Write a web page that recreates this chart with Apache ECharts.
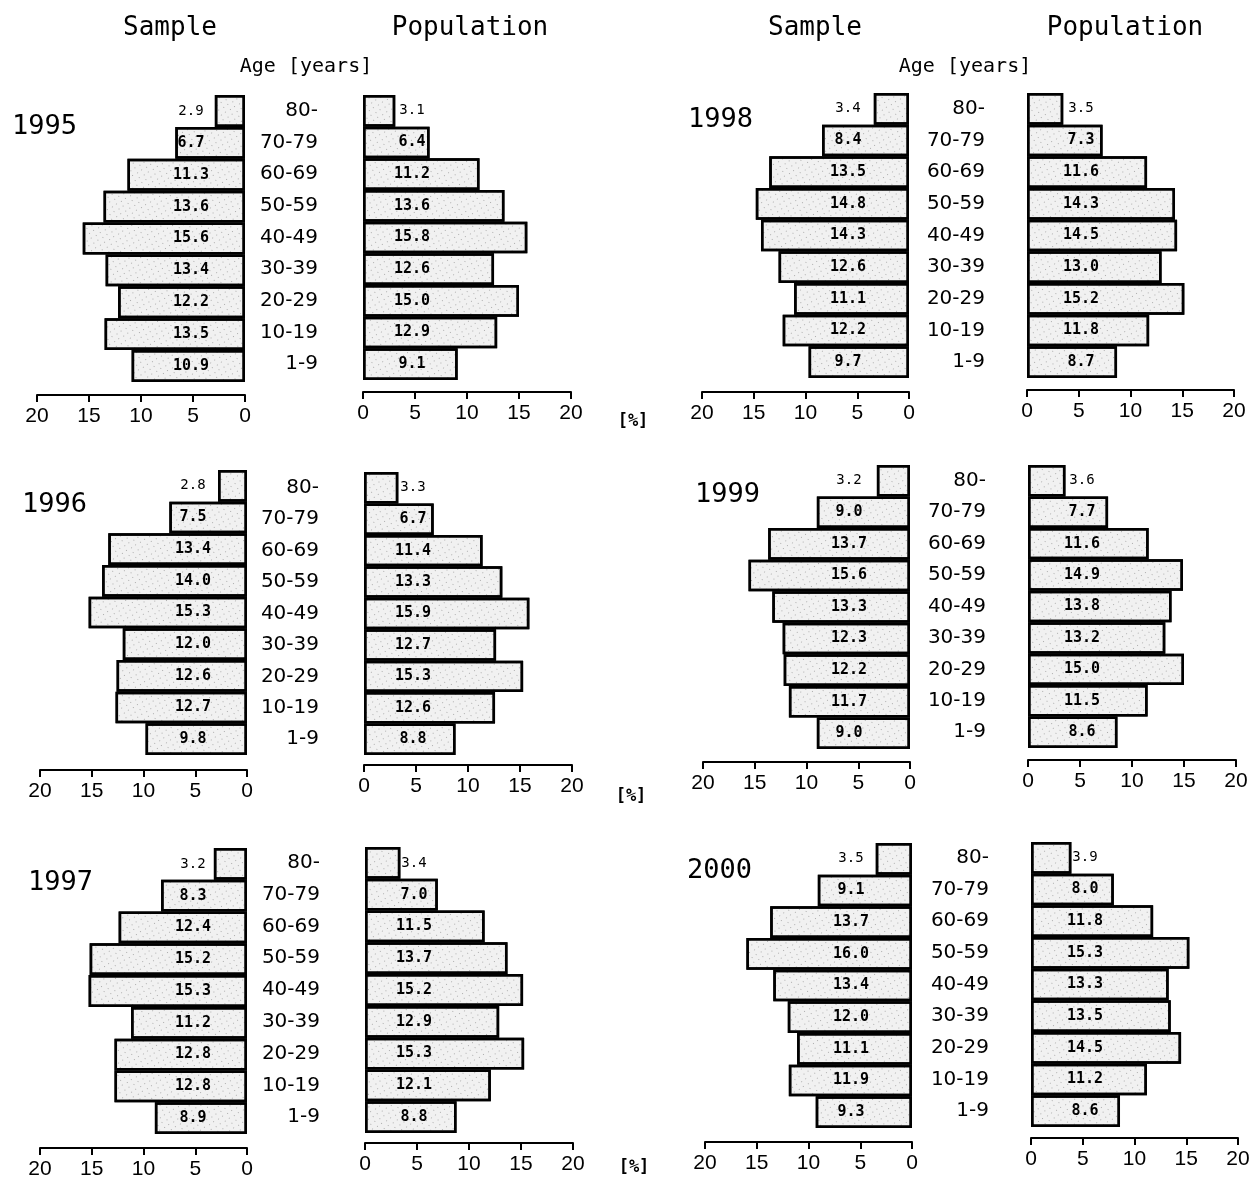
<!DOCTYPE html>
<html><head><meta charset="utf-8">
<script src="https://cdn.jsdelivr.net/npm/echarts@6/dist/echarts.min.js"></script>
<style>html,body{margin:0;padding:0;background:#fff}#c{width:1254px;height:1188px}</style>
</head><body><div id="c"></div>
<script>
const ageGroups = ['80-','70-79','60-69','50-59','40-49','30-39','20-29','10-19','1-9'];
const years = ['1995','1996','1997','1998','1999','2000'];
const axisTicks = [0,5,10,15,20];
const sample1995 = [2.9, 6.7, 11.3, 13.6, 15.6, 13.4, 12.2, 13.5, 10.9];
const pop1995    = [3.1, 6.4, 11.2, 13.6, 15.8, 12.6, 15.0, 12.9, 9.1];
const sample1996 = [2.8, 7.5, 13.4, 14.0, 15.3, 12.0, 12.6, 12.7, 9.8];
const pop1996    = [3.3, 6.7, 11.4, 13.3, 15.9, 12.7, 15.3, 12.6, 8.8];
const sample1997 = [3.2, 8.3, 12.4, 15.2, 15.3, 11.2, 12.8, 12.8, 8.9];
const pop1997    = [3.4, 7.0, 11.5, 13.7, 15.2, 12.9, 15.3, 12.1, 8.8];
const sample1998 = [3.4, 8.4, 13.5, 14.8, 14.3, 12.6, 11.1, 12.2, 9.7];
const pop1998    = [3.5, 7.3, 11.6, 14.3, 14.5, 13.0, 15.2, 11.8, 8.7];
const sample1999 = [3.2, 9.0, 13.7, 15.6, 13.3, 12.3, 12.2, 11.7, 9.0];
const pop1999    = [3.6, 7.7, 11.6, 14.9, 13.8, 13.2, 15.0, 11.5, 8.6];
const sample2000 = [3.5, 9.1, 13.7, 16.0, 13.4, 12.0, 11.1, 11.9, 9.3];
const pop2000    = [3.9, 8.0, 11.8, 15.3, 13.3, 13.5, 14.5, 11.2, 8.6];

const sampleData = [sample1995, sample1996, sample1997, sample1998, sample1999, sample2000];
const popData = [pop1995, pop1996, pop1997, pop1998, pop1999, pop2000];

// layout (pixels) for each panel
const layout = [
  {s:[37,245,95,382,395],  p:[363,571,95,380,392],   yr:[12,129],  col:0},
  {s:[40,247,470,755,770], p:[364,572,472,755,765],  yr:[22,507],  col:0},
  {s:[40,247,848,1134,1148], p:[365,573,847,1133,1143], yr:[28,885], col:0},
  {s:[702,909,93,378,392], p:[1027,1234,93,378,390], yr:[688,122], col:1},
  {s:[703,910,465,749,762], p:[1028,1236,465,748,760], yr:[695,497], col:1},
  {s:[705,912,843,1128,1142], p:[1031,1238,842,1127,1138], yr:[687,873], col:1}
];

const grids = [], xAxes = [], yAxes = [], series = [], graphics = [];
const tickFont = {fontFamily:'Liberation Sans', fontSize:21, color:'#000'};
const barStyle = {
  color:'#f1f1f1', borderColor:'#000', borderWidth:2.5,
  decal:{symbol:'rect', symbolSize:1, dashArrayX:[[1,6],[0,3,1,3]], dashArrayY:[1,3], color:'rgba(0,0,0,0.28)', rotation:0.3}
};
function mkData(arr){
  return arr.map((v,i)=> i===0 ? {value:v, label:{fontWeight:'normal', fontSize:14}} : v);
}
layout.forEach((L, k) => {
  ['s','p'].forEach((side) => {
    const g = L[side];
    const gi = grids.length;
    const left = Math.min(g[0], g[1]);
    const width = Math.abs(g[1]-g[0]);
    grids.push({left:left, top:g[2], width:width, height:g[3]-g[2], containLabel:false});
    xAxes.push({
      gridIndex:gi, type:'value', min:0, max:20, interval:5, inverse: side==='s',
      position:'bottom', offset:g[4]-g[3],
      splitLine:{show:false},
      axisLine:{show:true, lineStyle:{color:'#000', width:2}},
      axisTick:{show:true, length:7, lineStyle:{color:'#000', width:2}},
      axisLabel:Object.assign({margin:11, formatter:(v)=> axisTicks.indexOf(v)>=0 ? String(v) : ''}, tickFont)
    });
    yAxes.push({
      gridIndex:gi, type:'category', data:ageGroups, inverse:true,
      axisLine:{show:false}, axisTick:{show:false},
      axisLabel: side==='p' ? {show:true, fontFamily:'DejaVu Sans', fontSize:20, color:'#000', align:'right', margin: L.col===0 ? 45 : 42} : {show:false}
    });
    const dist = side==='s' ? (L.col===0 ? 54 : 61) : (L.col===0 ? 49 : 54);
    series.push({
      type:'bar', xAxisIndex:gi, yAxisIndex:gi, barCategoryGap:'0%',
      data: mkData(side==='s' ? sampleData[k] : popData[k]),
      itemStyle: barStyle,
      label:{show:true, position: side==='s' ? 'insideRight' : 'insideLeft', distance:dist, align:'center',
        fontFamily:'DejaVu Sans Mono', fontWeight:'bold', fontSize:15, color:'#000',
        formatter:(p)=> p.value.toFixed(1)},
      silent:true, animation:false
    });
  });
  graphics.push({type:'text', left:L.yr[0], top:L.yr[1]-16, style:{text:years[k], font:'27px "DejaVu Sans Mono"', fill:'#000'}});
});
// headers
[[170,'Sample'],[470,'Population'],[815,'Sample'],[1125,'Population']].forEach(h=>{
  graphics.push({type:'text', x:h[0], y:28, style:{text:h[1], font:'26px "DejaVu Sans Mono"', fill:'#000', align:'center', verticalAlign:'middle'}});
});
[[306,'Age [years]'],[965,'Age [years]']].forEach(h=>{
  graphics.push({type:'text', x:h[0], y:67, style:{text:h[1], font:'20px "DejaVu Sans Mono"', fill:'#000', align:'center', verticalAlign:'middle'}});
});
[[633,422],[631,797],[634,1168]].forEach(h=>{
  graphics.push({type:'text', x:h[0], y:h[1], style:{text:'[%]', font:'bold 17px "DejaVu Sans Mono"', fill:'#000', align:'center', verticalAlign:'middle'}});
});

const chart = echarts.init(document.getElementById('c'), null, {renderer:'canvas'});
chart.setOption({
  animation:false, backgroundColor:'#fff',
  grid:grids, xAxis:xAxes, yAxis:yAxes, series:series, graphic:graphics
});
</script></body></html>
